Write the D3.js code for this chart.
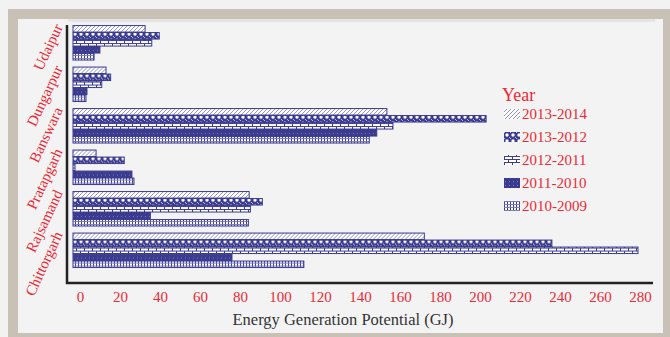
<!DOCTYPE html>
<html><head><meta charset="utf-8">
<script src="https://cdn.jsdelivr.net/npm/d3@7"></script>
<style>body{margin:0;background:#f2f2f2}svg{display:block}</style>
</head><body><svg id="c" width="670" height="337"></svg>
<script>
const categories = ["Udaipur","Dungarpur","Banswara","Pratapgarh","Rajsamand","Chittorgarh"];
const years = ["2013-2014","2013-2012","2012-2011","2011-2010","2010-2009"];
const v2013_2014 = [35.6, 16.3, 155, 11.4, 87, 173.5];
const v2013_2012 = [42.6, 18.6, 204, 25.3, 93.5, 236.5];
const v2012_2011 = [38.9, 14.2, 158, 1, 87.6, 279];
const v2011_2010 = [13.3, 6.9, 150, 29.1, 38.2, 78.5];
const v2010_2009 = [10.4, 6.4, 146.3, 30.1, 86.6, 114];
const xTicks = [0,20,40,60,80,100,120,140,160,180,200,220,240,260,280];
const xTitle = "Energy Generation Potential (GJ)";
const legendTitle = "Year";

const series = [v2013_2014, v2013_2012, v2012_2011, v2011_2010, v2010_2009];
const BLUE = "#3b3b8f", RED = "#ec2a36";
const svg = d3.select("#c");

// frame
svg.append("rect").attr("x",0).attr("y",0).attr("width",670).attr("height",337).attr("fill","#f2f2f2");
svg.append("rect").attr("x",13).attr("y",14).attr("width",655).attr("height",324)
  .attr("fill","#f3f3f3").attr("stroke","#c9c1b6").attr("stroke-width",10);
svg.append("rect").attr("x",68).attr("y",19).attr("width",587).attr("height",3).attr("fill","#e4e6e6");

// patterns
const defs = svg.append("defs");
function pat(id,w,h){ return defs.append("pattern").attr("id",id).attr("patternUnits","userSpaceOnUse").attr("width",w).attr("height",h); }
let p = pat("p0",4,4);
p.append("rect").attr("width",4).attr("height",4).attr("fill","#fff");
p.append("path").attr("d","M0,4L4,0M-1,1L1,-1M3,5L5,3").attr("stroke","#8484c0").attr("stroke-width",0.9);
p = pat("p1",6,6);
p.append("rect").attr("width",6).attr("height",6).attr("fill",BLUE);
p.append("circle").attr("cx",3).attr("cy",3).attr("r",1.7).attr("fill","#fff");
p.append("circle").attr("cx",0).attr("cy",0).attr("r",0.9).attr("fill","#fff");
p.append("circle").attr("cx",6).attr("cy",6).attr("r",0.9).attr("fill","#fff");
p = pat("p2",8,6);
p.append("rect").attr("width",8).attr("height",6).attr("fill","#fff");
p.append("rect").attr("y",0).attr("width",8).attr("height",1).attr("fill",BLUE);
p.append("rect").attr("y",3).attr("width",8).attr("height",1).attr("fill",BLUE);
p.append("rect").attr("x",0).attr("y",0).attr("width",1).attr("height",3).attr("fill",BLUE);
p.append("rect").attr("x",4).attr("y",3).attr("width",1).attr("height",3).attr("fill",BLUE);
p = pat("p3",4,4);
p.append("rect").attr("width",4).attr("height",4).attr("fill",BLUE);
p.append("rect").attr("x",1).attr("y",1).attr("width",1).attr("height",1).attr("fill","#7474bb");
p = pat("p4",3,3);
p.append("rect").attr("width",3).attr("height",3).attr("fill","#fff");
p.append("rect").attr("x",0).attr("width",1).attr("height",3).attr("fill",BLUE);
p.append("rect").attr("y",0).attr("width",3).attr("height",1).attr("fill","#7b7bbf");

// scales
const x = d3.scaleLinear().domain([0,280]).range([73,640]);
const xLab = d3.scaleLinear().domain([0,280]).range([80,640]);
const y = d3.scaleBand().domain(categories).range([21.8,270.8]).paddingInner(0.157).paddingOuter(0.0785);
const ySub = d3.scaleBand().domain(years).range([0,y.bandwidth()]);

// bars
categories.forEach((c,i)=>{
  const g = svg.append("g").attr("transform",`translate(0,${y(c)})`);
  years.forEach((yr,j)=>{
    const v = series[j][i];
    g.append("rect").attr("x",x(0)).attr("y",ySub(yr)+0.5)
      .attr("width",x(v)-x(0)).attr("height",ySub.bandwidth()-0.5)
      .attr("fill",`url(#p${j})`).attr("stroke",BLUE).attr("stroke-width",1);
  });
});

// axes lines
svg.append("line").attr("x1",67).attr("x2",67).attr("y1",25).attr("y2",284).attr("stroke","#222").attr("stroke-width",2.5);
svg.append("line").attr("x1",66).attr("x2",653).attr("y1",283).attr("y2",283).attr("stroke","#222").attr("stroke-width",2.5);

// x tick labels
const ax = svg.append("g").attr("transform","translate(0,291)")
  .call(d3.axisBottom(xLab).tickValues(xTicks).tickSize(0).tickPadding(0));
ax.select(".domain").remove();
ax.selectAll("text").attr("fill",RED).attr("font-family","Liberation Serif, serif").attr("font-size",15);

// x title
svg.append("text").attr("x",343).attr("y",325).attr("text-anchor","middle")
  .attr("font-family","Liberation Serif, serif").attr("font-size",16.5).attr("fill","#333").text(xTitle);

// category labels
categories.forEach(c=>{
  svg.append("text").attr("transform",`translate(63,${y(c)+2}) rotate(-65)`)
    .attr("text-anchor","end").attr("font-family","Liberation Serif, serif").attr("font-size",15)
    .attr("fill",RED).text(c);
});

// legend
svg.append("text").attr("x",502).attr("y",101).attr("font-family","Liberation Serif, serif")
  .attr("font-size",18).attr("fill",RED).text(legendTitle);
years.forEach((yr,j)=>{
  const cy = 114 + j*23;
  svg.append("rect").attr("x",504).attr("y",cy-5).attr("width",16).attr("height",10).attr("fill",`url(#p${j})`);
  svg.append("text").attr("x",522).attr("y",cy+5).attr("font-family","Liberation Serif, serif")
    .attr("font-size",15).attr("fill",RED).text(yr);
});
</script></body></html>
